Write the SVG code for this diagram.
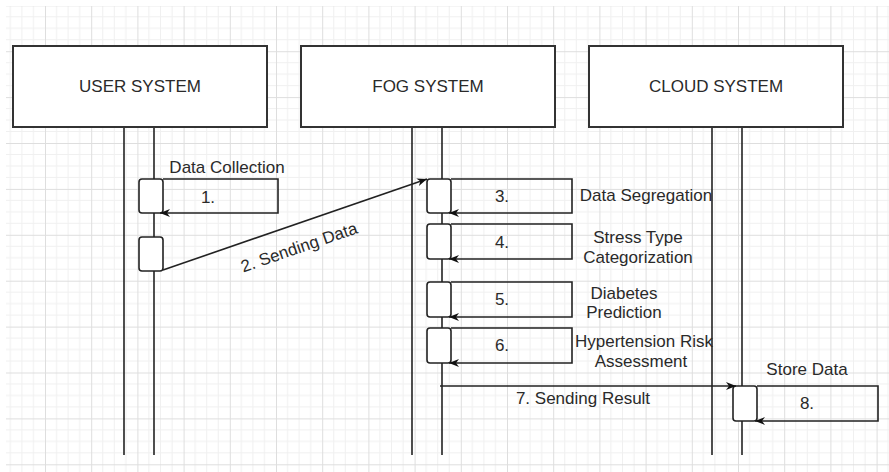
<svg xmlns="http://www.w3.org/2000/svg" width="889" height="472" viewBox="0 0 889 472">
<style>
.hdr{fill:#fff;stroke:#333;stroke-width:2}
.life{stroke:#222;stroke-width:1.6;fill:none}
.act{fill:#fff;stroke:#222;stroke-width:1.6}
.conn{stroke:#222;stroke-width:1.6;fill:none}
text{font-family:"Liberation Sans",Arial,sans-serif;font-size:17px;fill:#2a2a2a;text-anchor:middle}
</style>
<defs>
<pattern id="grid" patternUnits="userSpaceOnUse" x="45" y="5.3" width="46.2" height="45.9">
<g stroke="#f0f0f0" stroke-width="1">
<line x1="11.55" y1="0" x2="11.55" y2="45.9"/>
<line x1="23.1" y1="0" x2="23.1" y2="45.9"/>
<line x1="34.65" y1="0" x2="34.65" y2="45.9"/>
<line x1="0" y1="11.475" x2="46.2" y2="11.475"/>
<line x1="0" y1="22.95" x2="46.2" y2="22.95"/>
<line x1="0" y1="34.425" x2="46.2" y2="34.425"/>
</g>
<g stroke="#dedede" stroke-width="1">
<line x1="0.5" y1="0" x2="0.5" y2="45.9"/>
<line x1="0" y1="0.5" x2="46.2" y2="0.5"/>
</g>
</pattern>
<marker id="arr" viewBox="0 0 10 8" refX="10" refY="4" markerWidth="10" markerHeight="8" markerUnits="userSpaceOnUse" orient="auto">
<path d="M0,0 L10,4 L0,8 L3,4 z" fill="#111"/>
</marker>
</defs>
<rect x="0" y="0" width="889" height="472" fill="#fff"/>
<rect x="6" y="6" width="883" height="466" fill="url(#grid)"/>

<g id="user-system">
<line class="life" x1="124" y1="127" x2="124" y2="455"/>
<line class="life" x1="154" y1="127" x2="154" y2="455"/>
<rect class="hdr" x="13" y="46" width="254" height="81"/>
<text x="140" y="92">USER SYSTEM</text>
</g>
<g id="fog-system">
<line class="life" x1="412" y1="127" x2="412" y2="455"/>
<line class="life" x1="442" y1="127" x2="442" y2="455"/>
<rect class="hdr" x="301" y="46" width="254" height="81"/>
<text x="428" y="92">FOG SYSTEM</text>
</g>
<g id="cloud-system">
<line class="life" x1="712" y1="127" x2="712" y2="455"/>
<line class="life" x1="742" y1="127" x2="742" y2="455"/>
<rect class="hdr" x="589" y="46" width="254" height="81"/>
<text x="716" y="92">CLOUD SYSTEM</text>
</g>

<g id="act-user-1"><rect class="act" x="139" y="179" width="24" height="34" rx="3"/></g>
<g id="act-user-2"><rect class="act" x="139" y="237" width="24" height="34" rx="3"/></g>
<g id="act-fog-3"><rect class="act" x="427" y="179" width="24" height="34" rx="3"/></g>
<g id="act-fog-4"><rect class="act" x="427" y="224" width="24" height="35" rx="3"/></g>
<g id="act-fog-5"><rect class="act" x="427" y="282" width="24" height="35" rx="3"/></g>
<g id="act-fog-6"><rect class="act" x="427" y="328" width="24" height="35" rx="3"/></g>
<g id="act-cloud-8"><rect class="act" x="733" y="386" width="24" height="35" rx="3"/></g>

<g id="connectors">
<path class="conn" d="M163,179 H278 V213 H160" marker-end="url(#arr)"/>
<path class="conn" d="M163,270 L427,179" marker-end="url(#arr)"/>
<path class="conn" d="M451,179 H572 V213 H449" marker-end="url(#arr)"/>
<path class="conn" d="M451,224 H572 V259 H449" marker-end="url(#arr)"/>
<path class="conn" d="M451,282 H572 V317 H449" marker-end="url(#arr)"/>
<path class="conn" d="M451,328 H572 V363 H449" marker-end="url(#arr)"/>
<path class="conn" d="M440,386 H736" marker-end="url(#arr)"/>
<path class="conn" d="M757,386 H878 V421 H755" marker-end="url(#arr)"/>
</g>

<g id="labels">
<text x="227" y="173">Data Collection</text>
<text x="208" y="203">1.</text>
<text transform="translate(299,247) rotate(-19)" x="0" y="6">2. Sending Data</text>
<text x="502" y="202">3.</text>
<text x="646" y="201">Data Segregation</text>
<text x="502" y="248">4.</text>
<text x="638" y="243">Stress Type</text>
<text x="638" y="263">Categorization</text>
<text x="502" y="305">5.</text>
<text x="624" y="299">Diabetes</text>
<text x="624" y="318">Prediction</text>
<text x="502" y="351">6.</text>
<text x="644" y="347">Hypertension Risk</text>
<text x="641" y="367">Assessment</text>
<text x="583" y="404">7. Sending Result</text>
<text x="807" y="375">Store Data</text>
<text x="807" y="409">8.</text>
</g>
</svg>
